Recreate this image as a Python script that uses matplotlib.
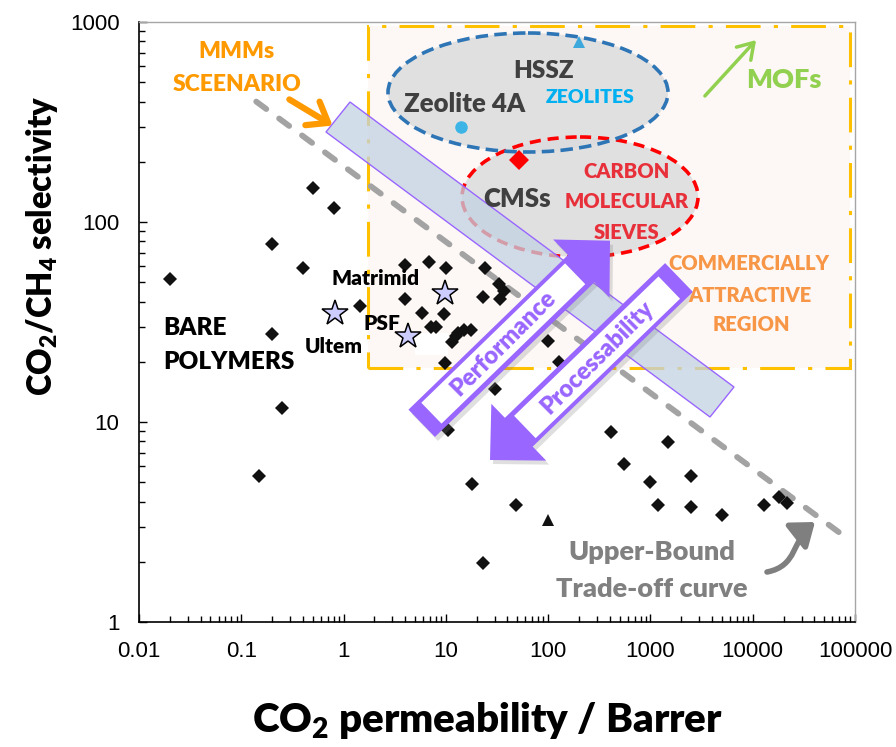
"""CO2/CH4 Robeson-type map: bare polymers, inorganic fillers and the MMM route."""

import numpy as np
import matplotlib
matplotlib.use("Agg")
import matplotlib.pyplot as plt
import matplotlib.transforms as mtransforms
from matplotlib.patches import Ellipse, Polygon, Rectangle, FancyArrowPatch
from matplotlib.path import Path
from matplotlib.ticker import NullFormatter

W, H = 896, 747

# Bare polymers: CO2 permeability (Barrer) and CO2/CH4 selectivity
polymer_perm = [0.02, 0.2, 0.5, 0.8, 0.4, 0.2, 0.25, 0.15, 1.45,
                4.0, 6.8, 10, 24, 33, 37, 23, 34, 4.0, 5.9,
                9.6, 7.2, 8.0, 11.5, 13, 15, 17.5, 12.5, 9.8, 30,
                10.4, 100, 128, 18, 49, 23, 410, 1490, 555, 990,
                2490, 1190, 2490, 5040, 12900, 18000, 21700]
polymer_sel = [52, 78, 148, 118, 59, 27.5, 11.8, 5.4, 38,
               61, 63, 59, 59, 49, 45, 42, 41, 41, 35,
               34.5, 30, 30, 25, 28, 29, 29, 27, 19.8, 14.6,
               9.1, 25.4, 20, 4.9, 3.83, 1.98, 8.9, 7.9, 6.2, 5.0,
               5.4, 3.83, 3.75, 3.44, 3.83, 4.24, 3.93]
other_perm = [100]
other_sel = [3.25]

# Commercial polymers
ref_names = ["Ultem", "Matrimid", "PSF"]
ref_perm = [0.82, 9.8, 4.3]
ref_sel = [35, 44, 27]

# Inorganic materials
zeolite4a_perm, zeolite4a_sel = [14], [300]
hssz_perm, hssz_sel = [200], [790]
cms_perm, cms_sel = [52], [205]

# Upper bound (trade-off) line
bound_perm = [0.14, 90000]
bound_sel = [400, 2.55]

# Commercially attractive window
region_perm = [1.73, 89000]
region_sel = [18.7, 955]

x_ticks = [0.01, 0.1, 1, 10, 100, 1000, 10000, 100000]
x_tick_labels = ["0.01", "0.1", "1", "10", "100", "1000", "10000", "100000"]
y_ticks = [1, 10, 100, 1000]
y_tick_labels = ["1", "10", "100", "1000"]

PURPLE = "#9966ff"

plt.rcParams["font.family"] = ["Lato", "DejaVu Sans"]
plt.rcParams["font.weight"] = "heavy"
plt.rcParams["mathtext.fontset"] = "custom"
plt.rcParams["mathtext.bf"] = "Lato:heavy"
plt.rcParams["mathtext.rm"] = "Lato:heavy"
plt.rcParams["mathtext.default"] = "bf"
plt.rcParams["lines.scale_dashes"] = False

fig = plt.figure(figsize=(W / 100, H / 100), dpi=100)
ax = fig.add_axes([139 / W, 1 - 622 / H, 716 / W, 600 / H])
# figure pixel coordinates, origin top-left
px = mtransforms.Affine2D().scale(1 / W, -1 / H).translate(0, 1) + fig.transFigure

ax.set_xscale("log")
ax.set_yscale("log")
ax.set_xlim(0.01, 1e5)
ax.set_ylim(1, 1000)
ax.set_xticks(x_ticks)
ax.set_xticklabels(x_tick_labels)
ax.set_yticks(y_ticks)
ax.set_yticklabels(y_tick_labels)
ax.xaxis.set_minor_formatter(NullFormatter())
ax.yaxis.set_minor_formatter(NullFormatter())
ax.tick_params(which="both", direction="in", top=False, right=False, width=1)
ax.tick_params(which="major", length=6)
ax.tick_params(which="minor", length=4)
ax.tick_params(axis="x", pad=14)
ax.tick_params(axis="y", pad=14)
for lab in ax.get_xticklabels() + ax.get_yticklabels():
    lab.set_fontfamily("Liberation Sans")
    lab.set_fontweight("normal")
    lab.set_fontsize(16)
for side in ("left", "bottom"):
    ax.spines[side].set_linewidth(1.2)
for side in ("top", "right"):
    ax.spines[side].set_color("#a6a6a6")
    ax.spines[side].set_linewidth(1)

# commercially attractive region
ax.add_patch(Rectangle((region_perm[0], region_sel[0]),
                       region_perm[1] - region_perm[0], region_sel[1] - region_sel[0],
                       facecolor="#fdf8f5", edgecolor="none", zorder=1))
ax.add_patch(Rectangle((region_perm[0], region_sel[0]),
                       region_perm[1] - region_perm[0], region_sel[1] - region_sel[0],
                       facecolor="none", edgecolor="#ffc000", lw=2.2,
                       ls=(0, (25, 9.5, 3, 9.5)), zorder=1.6))

# upper bound
ax.plot(bound_perm, bound_sel, color="#a3a3a3", lw=4.2, ls=(0, (9, 11.5)),
        dash_capstyle="round", zorder=2)

# zeolite / CMS ellipses
zeo = dict(xy=(528, 92.5), width=280, height=119)
cmsell = dict(xy=(580, 197), width=236, height=120)
for e in (cmsell, zeo):
    ax.add_patch(Ellipse(**e, transform=px, facecolor="#dcdcde", alpha=0.85,
                         edgecolor="none", zorder=2.4, clip_on=False))
ax.add_patch(Ellipse(**cmsell, transform=px, facecolor="none", edgecolor="#ff0000",
                     lw=2.6, ls=(0, (8, 5)), zorder=2.5, clip_on=False))
ax.add_patch(Ellipse(**zeo, transform=px, facecolor="none", edgecolor="#2e75b6",
                     lw=2.6, ls=(0, (9, 4.5)), zorder=2.5, clip_on=False))

# MMM scenario band
band = [(350, 102), (734, 387), (710, 417), (326, 132)]
ax.add_patch(Polygon(band, closed=True, transform=px, facecolor="#c3d2e3",
                     alpha=0.75, edgecolor="none", zorder=3, clip_on=False))
ax.add_patch(Polygon(band, closed=True, transform=px, facecolor="none",
                     edgecolor=PURPLE, lw=1, zorder=3.1, clip_on=False))

# white patch next to PSF
ax.add_patch(Rectangle((415, 333), 33, 22, transform=px, facecolor="white",
                       edgecolor="none", zorder=3.5))

# data
ax.plot(polymer_perm, polymer_sel, "D", color="#111111", ms=7.5, mew=0, zorder=4)
ax.plot(other_perm, other_sel, "^", color="#111111", ms=8, mew=0, zorder=4)
ax.plot(ref_perm, ref_sel, "*", ms=19, mfc="#ccccff", mec="black", mew=1.1, zorder=4.5)
ax.plot(zeolite4a_perm, zeolite4a_sel, "o", color="#3cb4e6", ms=9, mew=0, zorder=4)
ax.plot(hssz_perm, hssz_sel, "^", color="#3ca8dc", ms=9, mew=0, zorder=4, clip_on=False)
ax.plot(cms_perm, cms_sel, "D", color="#ff0000", ms=10, mew=0, zorder=4)


def block_arrow(tail, tip, shaft_w, head_w, head_len):
    tail = np.asarray(tail, float)
    tip = np.asarray(tip, float)
    u = (tip - tail) / np.hypot(*(tip - tail))
    n = np.array([-u[1], u[0]])
    base = tip - u * head_len
    return np.array([tail + n * shaft_w / 2, base + n * shaft_w / 2,
                     base + n * head_w / 2, tip, base - n * head_w / 2,
                     base - n * shaft_w / 2, tail - n * shaft_w / 2])


def inner_box(tail, tip, shaft_w, head_len, start, end, m_neg, m_pos):
    tail = np.asarray(tail, float)
    tip = np.asarray(tip, float)
    u = (tip - tail) / np.hypot(*(tip - tail))
    n = np.array([-u[1], u[0]])
    a = tail + u * start
    b = tip - u * (head_len + end)
    hp = shaft_w / 2 - m_pos
    hn = shaft_w / 2 - m_neg
    return np.array([a - n * hn, b - n * hn, b + n * hp, a + n * hp])


arrows = [
    ("Performance", (421.7, 423.3), (610, 240.7), 38, 81, 40),
    ("Processability", (679, 277.5), (490, 460), 40, 79, 40),
]
for label, tail, tip, sw, hw, hl in arrows:
    shape = block_arrow(tail, tip, sw, hw, hl)
    ax.add_patch(Polygon(shape + [3, 4], closed=True, transform=px,
                         facecolor="#808080", alpha=0.25, edgecolor="none",
                         zorder=4.8, clip_on=False))
    ax.add_patch(Polygon(shape, closed=True, transform=px, facecolor=PURPLE,
                         edgecolor="none", zorder=5, clip_on=False))
    box = inner_box(tail, tip, sw, hl, 14, 8, 4, 5)
    ax.add_patch(Polygon(box, closed=True, transform=px, facecolor="white",
                         edgecolor="none", zorder=5.1, clip_on=False))
    cx, cy = box.mean(axis=0)
    ax.text(cx, cy, label, transform=px, rotation=45, rotation_mode="anchor",
            ha="center", va="center", color=PURPLE, fontsize=17, zorder=5.2)

# annotation arrows
ax.add_patch(FancyArrowPatch((287, 98), (335, 127), transform=px,
                             arrowstyle="->,head_length=0.6,head_width=0.45",
                             mutation_scale=22, lw=4.5, color="#ff9900",
                             zorder=6, clip_on=False))
ax.add_patch(FancyArrowPatch((703, 98), (758, 38), transform=px,
                             arrowstyle="->,head_length=0.55,head_width=0.35",
                             mutation_scale=20, lw=2.5, color="#92d050",
                             zorder=6, clip_on=False))
swoosh = Path([(767, 572), (798, 566), (792, 540), (815, 522)],
              [Path.MOVETO, Path.CURVE4, Path.CURVE4, Path.CURVE4])
ax.add_patch(FancyArrowPatch(path=swoosh, transform=px,
                             arrowstyle="-|>,head_length=0.6,head_width=0.45",
                             mutation_scale=22, lw=4, color="#7f7f7f",
                             zorder=6, clip_on=False))

# text labels: (x centre, baseline, text, colour, size)
labels = [
    (237, 58, "MMMs", "#ff9900", 16.5),
    (237, 91, "SCEENARIO", "#ff9900", 16.5),
    (544, 78, "HSSZ", "#404040", 17.5),
    (465, 112, "Zeolite 4A", "#404040", 18.5),
    (590, 103, "ZEOLITES", "#00b0f0", 14),
    (784, 88, "MOFs", "#92d050", 19.5),
    (517, 207, "CMSs", "#404040", 18.5),
    (627, 178, "CARBON", "#e8303a", 14.5),
    (627, 208, "MOLECULAR", "#e8303a", 14.5),
    (627, 239, "SIEVES", "#e8303a", 14.5),
    (749, 270, "COMMERCIALLY", "#f79646", 14.5),
    (750, 302, "ATTRACTIVE", "#f79646", 14.5),
    (751, 331, "REGION", "#f79646", 14.5),
    (376, 285, "Matrimid", "black", 15),
    (382, 330, "PSF", "black", 15),
    (334, 353, "Ultem", "black", 15),
    (652, 560, "Upper-Bound", "#808080", 19.5),
    (652, 597, "Trade-off curve", "#808080", 19.5),
]
for x, y, s, c, fs in labels:
    ax.text(x, y, s, transform=px, ha="center", va="baseline", color=c,
            fontsize=fs, zorder=7, clip_on=False)
for y, s in ((335, "BARE"), (369, "POLYMERS")):
    ax.text(163, y, s, transform=px, ha="left", va="baseline", color="black",
            fontsize=17.5, zorder=7)

fig.text(487, 732, "CO$_2$ permeability / Barrer", transform=px, ha="center",
         va="baseline", fontsize=29)
fig.text(52, 246, "CO$_2$/CH$_4$ selectivity", transform=px, ha="center",
         va="baseline", rotation=90, rotation_mode="anchor", fontsize=23.5)

fig.savefig("out.png", dpi=100)
